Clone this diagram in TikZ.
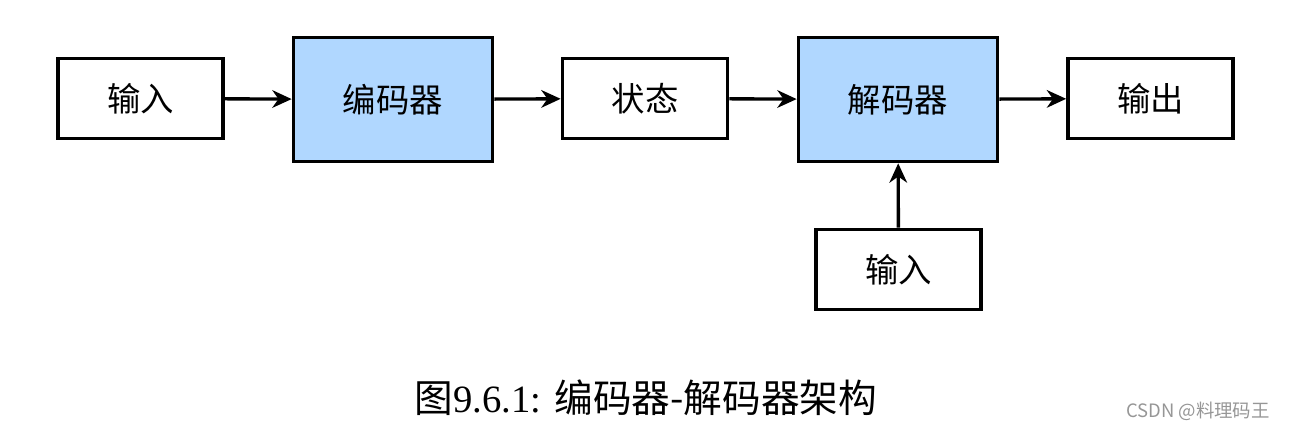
\documentclass[tikz,border=0pt]{standalone}
\usepackage{fontspec}
\usetikzlibrary{arrows.meta}
\setmainfont{Liberation Serif}
\newfontfamily\cjk{Noto Sans CJK SC}
\definecolor{coderblue}{RGB}{176,215,255}
\definecolor{markgray}{RGB}{150,150,150}
\tikzset{
	blk/.style={draw,line width=2.1pt,inner sep=0pt,font=\cjk\fontsize{19}{22}\selectfont},
	smallblk/.style={blk,minimum width=3.3cm,minimum height=1.6cm},
	coderblk/.style={blk,fill=coderblue,minimum width=3.98cm,minimum height=2.48cm},
	flow/.style={->,line width=1.9pt}
}
\begin{document}
\begin{tikzpicture}[>={Stealth[length=11pt,width=10pt,inset=3.5pt]},x=0.02cm,y=0.02cm]
		\useasboundingbox (0,0) rectangle (1291,431);
		% obere Reihe
		\node[smallblk] (in1) at (140.5,332.5) {输入};
		\node[coderblk] (enc) at (393,331.5) {编码器};
		\node[smallblk] (state) at (645,332.5) {状态};
		\node[coderblk] (dec) at (898,331.5) {解码器};
		\node[smallblk] (out) at (1150.5,332.5) {输出};
		% zweiter Eingang
		\node[smallblk] (in2) at (898.5,161.5) {输入};
		\draw[flow] (in1) -- (enc);
		\draw[flow] (enc) -- (state);
		\draw[flow] (state) -- (dec);
		\draw[flow] (dec) -- (out);
		\draw[flow] (in2) -- (dec);
		\node[font=\fontsize{22}{26}\selectfont] (cap) at (646,33) {{\cjk 图}9.6.1: {\cjk 编码器-解码器架构}};
		\node[font=\cjk\fontsize{10.5}{12}\selectfont,text=markgray,anchor=east] (mark) at (1276,20) {CSDN @料理码王};
	\end{tikzpicture}
\end{document}
